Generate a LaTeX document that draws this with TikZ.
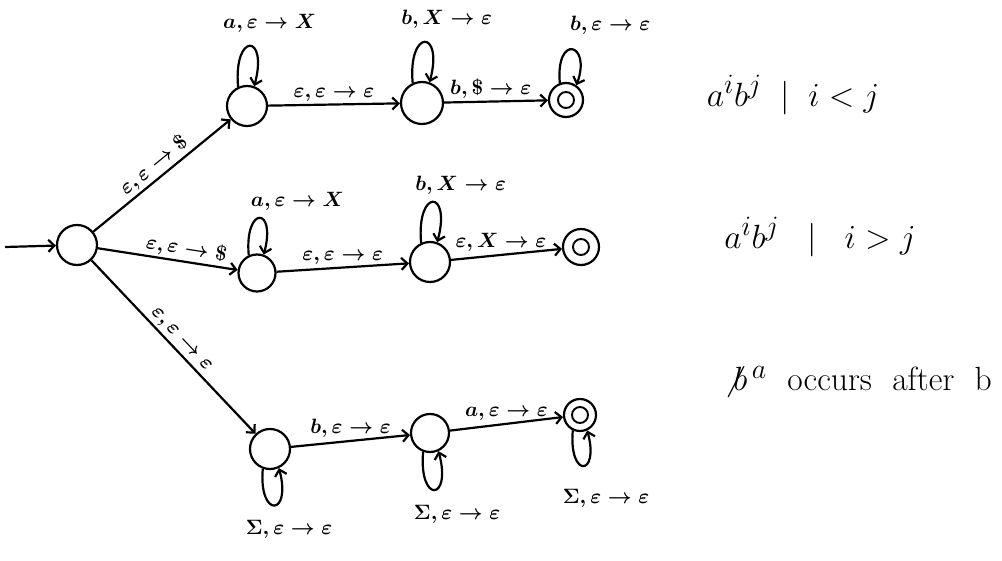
\documentclass[tikz,border=0pt]{standalone}
\usetikzlibrary{arrows.meta}
\begin{document}
\begin{tikzpicture}[x=1pt,y=1pt,line width=2.2pt,
  >={Straight Barb[length=6pt,width=12pt]},
  state/.style={circle,draw,minimum size=40pt,inner sep=0pt},
  accept/.style={circle,draw,minimum size=34pt,inner sep=0pt,
    path picture={\draw[line width=1.9pt] (path picture bounding box.center) circle (8pt);}},
  lbl/.style={font=\fontsize{20.74}{24}\selectfont\boldmath,inner sep=2pt},
  big/.style={font=\fontsize{24.88}{30}\selectfont,scale=1.35,transform shape}]
\useasboundingbox (0,0) rectangle (1002,560);
% states
\node[state] (s0) at (77,315) {};
\node[state] (q1) at (247,454) {};
\node[state,minimum size=42pt] (q2) at (422,457) {};
\node[accept] (q3) at (566,460) {};
\node[state,minimum size=37pt] (q4) at (257,287) {};
\node[state] (q5) at (430,298) {};
\node[accept,minimum size=36pt] (q6) at (581,313) {};
\node[state] (q7) at (270,111) {};
\node[state,minimum size=38pt] (q8) at (430,127) {};
\node[accept,minimum size=32pt] (q9) at (580,145) {};
\coordinate (st) at (5,313);
% start
\draw[->] (st) -- (s0);
% branches
\draw[->] (s0) -- (q1) node[lbl,sloped,above,pos=.5] {$\varepsilon,\varepsilon\to\$$};
\draw[->] (s0) -- (q4) node[lbl,sloped,above,pos=.62] {$\varepsilon,\varepsilon\to\$$};
\draw[->] (s0) -- (q7) node[lbl,sloped,above,pos=.5] {$\varepsilon,\varepsilon\to\varepsilon$};
% top row
\draw[->] (q1) -- (q2) node[lbl,above,pos=.5] {$\varepsilon,\varepsilon\to\varepsilon$};
\draw[->] (q2) -- (q3) node[lbl,above,pos=.45] {$b,\$\to\varepsilon$};
\draw[->] (q1.115) .. controls +(95:55) and +(75:55) .. (q1.70)
  node[lbl,above=10pt,xshift=20pt,pos=.5] {$a,\varepsilon\to X$};
\draw[->] (q2.115) .. controls +(95:55) and +(75:55) .. (q2.70)
  node[lbl,above=10pt,xshift=22pt,pos=.5] {$b,X\to\varepsilon$};
\draw[->] (q3.110) .. controls +(95:50) and +(70:45) .. (q3.55)
  node[lbl,above=12pt,xshift=38pt,pos=.5] {$b,\varepsilon\to\varepsilon$};
% middle row
\draw[->] (q4) -- (q5) node[lbl,above,pos=.5] {$\varepsilon,\varepsilon\to\varepsilon$};
\draw[->] (q5) -- (q6) node[lbl,above,pos=.45] {$\varepsilon,X\to\varepsilon$};
\draw[->] (q4.115) .. controls +(95:50) and +(75:50) .. (q4.70)
  node[lbl,above=4pt,xshift=38pt,pos=.5] {$a,\varepsilon\to X$};
\draw[->] (q5.115) .. controls +(95:55) and +(75:55) .. (q5.70)
  node[lbl,above=4pt,xshift=28pt,pos=.5] {$b,X\to\varepsilon$};
% bottom row
\draw[->] (q7) -- (q8) node[lbl,above,pos=.5] {$b,\varepsilon\to\varepsilon$};
\draw[->] (q8) -- (q9) node[lbl,above,pos=.5] {$a,\varepsilon\to\varepsilon$};
\draw[->] (q7.250) .. controls +(265:50) and +(285:50) .. (q7.295)
  node[lbl,below=12pt,xshift=15pt,pos=.5] {$\Sigma,\varepsilon\to\varepsilon$};
\draw[->] (q8.250) .. controls +(265:52) and +(285:52) .. (q8.295)
  node[lbl,below=12pt,xshift=23pt,pos=.5] {$\Sigma,\varepsilon\to\varepsilon$};
\draw[->] (q9.245) .. controls +(265:48) and +(285:48) .. (q9.295)
  node[lbl,below=20pt,xshift=23pt,pos=.5] {$\Sigma,\varepsilon\to\varepsilon$};
% languages
\node[big] (t1) at (793,465) {$a^{i}b^{j}\;\mid\; i<j$};
\node[big] (t2) at (820,323) {$a^{i}b^{j}\;\;\mid\;\; i>j$};
\node[big,anchor=west] (t3) at (718,178) {$\not{b}^{\,a}$\ \ occurs\ \ after\ \ b};
\end{tikzpicture}
\end{document}
